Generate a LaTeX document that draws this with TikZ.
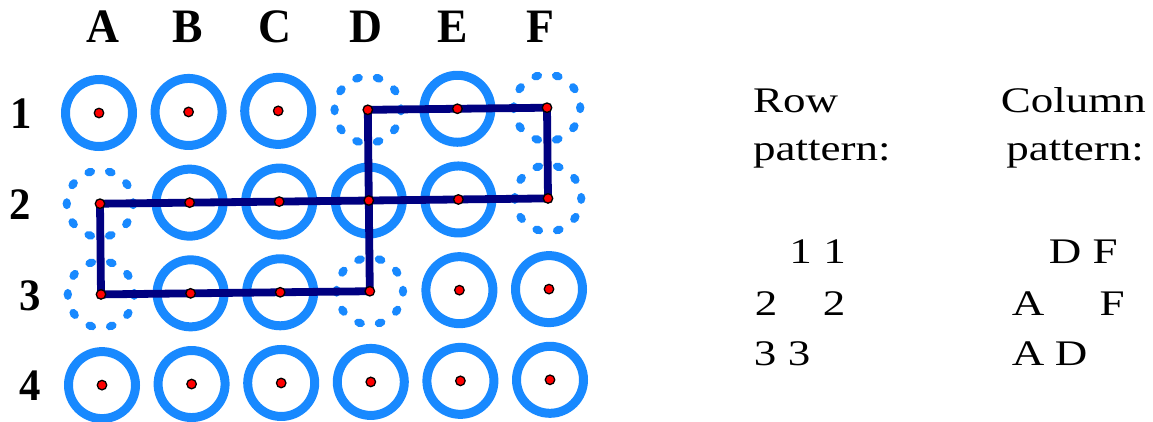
\documentclass[tikz,border=0pt]{standalone}
\usepackage{fontspec}
\setmainfont{Liberation Serif}
\newfontfamily\labfont[FakeStretch=0.95]{Liberation Serif}
\newfontfamily\txtfont[FakeStretch=1.25]{Liberation Serif}
\definecolor{ringblue}{RGB}{24,137,255}
\definecolor{pathnavy}{RGB}{0,0,128}
\begin{document}
\begin{tikzpicture}[x=1pt,y=-1pt,
  ring/.style={circle,draw=ringblue,line width=9pt,minimum size=67pt,inner sep=0pt},
  dring/.style={circle,minimum size=66pt,inner sep=0pt},
  rdot/.style={circle,fill=red,draw=black,line width=1.3pt,minimum size=9.5pt,inner sep=0pt},
  collab/.style={font=\labfont\bfseries\fontsize{48}{50}\selectfont,anchor=base,inner sep=0pt},
  rowlab/.style={font=\labfont\bfseries\fontsize{45}{48}\selectfont,anchor=base,inner sep=0pt},
  rtext/.style={font=\txtfont\fontsize{36}{40}\selectfont,inner sep=0pt},
  pathline/.style={draw=pathnavy,line width=7.8pt,line join=miter}]
\useasboundingbox (0,0) rectangle (1153,421);
% grid points
\foreach \c/\i in {a/0,b/1,c/2,d/3,e/4,f/5}{
  \foreach \j in {1,2,3,4}{
    \coordinate (\c\j) at ({99+89.6*\i+(\j-1)},{113+90.7*(\j-1)-1.06*\i});
  }
}
% solid rings
\foreach \n in {a1,b1,c1,e1,b2,c2,d2,e2,b3,c3,e3,f3,a4,b4,c4,d4,e4,f4}
  \node[ring] (r\n) at (\n) {};
% dotted rings
\foreach \n in {d1,f1,a2,f2,a3,d3}{
  \node[dring] (r\n) at (\n) {};
  \foreach \a in {0,36,...,324}
    \fill[ringblue,shift={(r\n.\a)},rotate=\a] (0,0) ellipse (4.2pt and 5.5pt);
}
% column labels
\node[collab] (la) at (102.5,42) {A};
\node[collab] (lb) at (187.5,42) {B};
\node[collab] (lc) at (275,42) {C};
\node[collab] (ld) at (366,42) {D};
\node[collab] (le) at (453,42) {E};
\node[collab] (lf) at (540,42) {F};
% row labels
\node[rowlab] (l1) at (21,128) {1};
\node[rowlab] (l2) at (20,219) {2};
\node[rowlab] (l3) at (30,310) {3};
\node[rowlab] (l4) at (30,400) {4};
% path
\draw[pathline] (d1) -- (f1) -- (f2) -- (a2) -- (a3) -- (d3) -- cycle;
% red dots
\foreach \c in {a,b,c,d,e,f}
  \foreach \j in {1,2,3,4}
    \node[rdot] (p\c\j) at (\c\j) {};
% right texts
\node[rtext,anchor=base west] (rowt1) at (753,112) {Row};
\node[rtext,anchor=base west] (rowt2) at (753,160) {pattern:};
\node[rtext,anchor=base east] (colt1) at (1146,112) {Column};
\node[rtext,anchor=base east] (colt2) at (1144,160) {pattern:};
% row pattern
\node[rtext,anchor=base] (rp11) at (800.5,263) {1};
\node[rtext,anchor=base] (rp12) at (834.5,263) {1};
\node[rtext,anchor=base] (rp21) at (766,315) {2};
\node[rtext,anchor=base] (rp22) at (834,315) {2};
\node[rtext,anchor=base] (rp31) at (765,365) {3};
\node[rtext,anchor=base] (rp32) at (799,365) {3};
% column pattern
\node[rtext,anchor=base] (cp11) at (1065,263) {D};
\node[rtext,anchor=base] (cp12) at (1105,263) {F};
\node[rtext,anchor=base] (cp21) at (1028,315) {A};
\node[rtext,anchor=base] (cp22) at (1112,315) {F};
\node[rtext,anchor=base] (cp31) at (1028,365) {A};
\node[rtext,anchor=base] (cp32) at (1071,365) {D};
\end{tikzpicture}
\end{document}
